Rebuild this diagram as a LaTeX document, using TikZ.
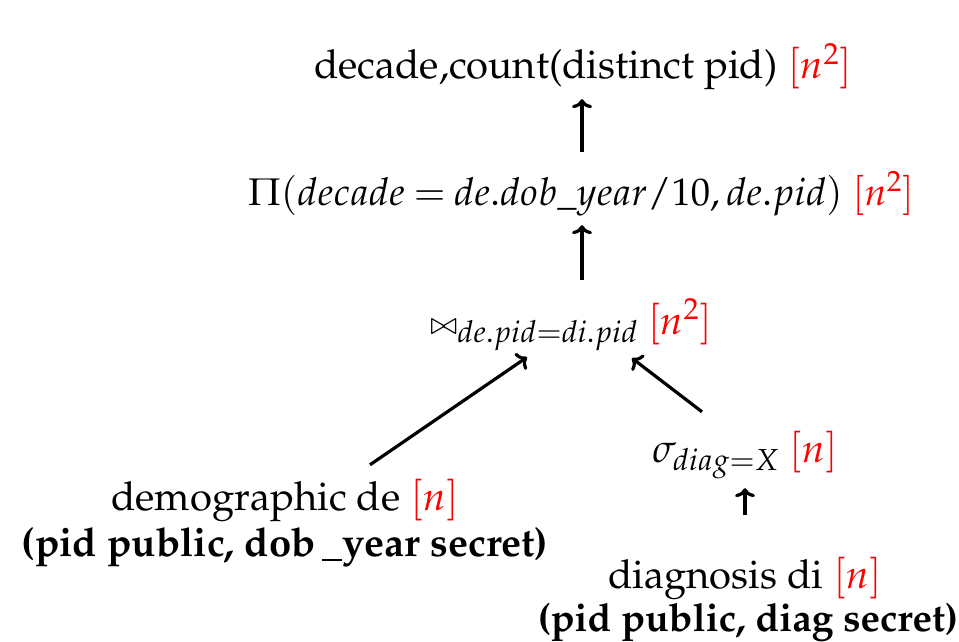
\documentclass[tikz,border=0pt]{standalone}
\usepackage[T1]{fontenc}
\usepackage{mathpazo}
\usepackage{xcolor}
\usetikzlibrary{arrows.meta}
\begin{document}
\begin{tikzpicture}[x=1pt,y=-1pt,
  lbl/.style={anchor=base,inner sep=0pt,text height=30pt,text depth=10pt,font=\fontsize{40}{48}\selectfont},
  arr/.style={-{Computer Modern Rightarrow[length=9pt,width=20pt]},line width=3.2pt}]
\useasboundingbox (0,0) rectangle (959,642);
\newcommand{\cst}[1]{\textcolor{red}{$[#1]$}}
\node[lbl] (top) at (583,79) {decade,count(distinct pid) \cst{n^2}};
\node[lbl,font=\fontsize{38.5}{46}\selectfont] (proj) at (581,205) {$\thickmuskip=4mu \Pi(decade = de.dob\_year/10, de.pid)$ \cst{n^2}};
\node[lbl] (join) at (571,334) {${\scriptstyle\bowtie}_{de.pid=di.pid}$ \cst{n^2}};
\node[lbl] (sel) at (745,462) {$\sigma_{diag=X}$ \cst{n}};
\node[lbl] (demo) at (285,510) {demographic de \cst{n}};
\node[lbl] (demob) at (285,556) {\textbf{(pid public, dob\,\_year secret)}};
\node[lbl] (diag) at (745,588) {diagnosis di \cst{n}};
\node[lbl,font=\fontsize{39}{46}\selectfont] (diagb) at (748,631) {\textbf{(pid public, diag secret)}};
\draw[arr] ([xshift=1pt,yshift=23pt]proj.north) -- ([xshift=-1pt,yshift=-10pt]top.south);
\draw[arr] ([xshift=11pt,yshift=24pt]join.north) -- ([xshift=1pt,yshift=-10pt]proj.south);
\draw[arr] ([xshift=85pt,yshift=15pt]demo.north) -- ([xshift=-44pt,yshift=-13pt]join.south);
\draw[arr] ([xshift=-43pt,yshift=20pt]sel.north) -- ([xshift=61pt,yshift=-14pt]join.south);
\draw[arr] ([yshift=43pt]diag.north) -- ([yshift=-16pt]sel.south);
\end{tikzpicture}
\end{document}
